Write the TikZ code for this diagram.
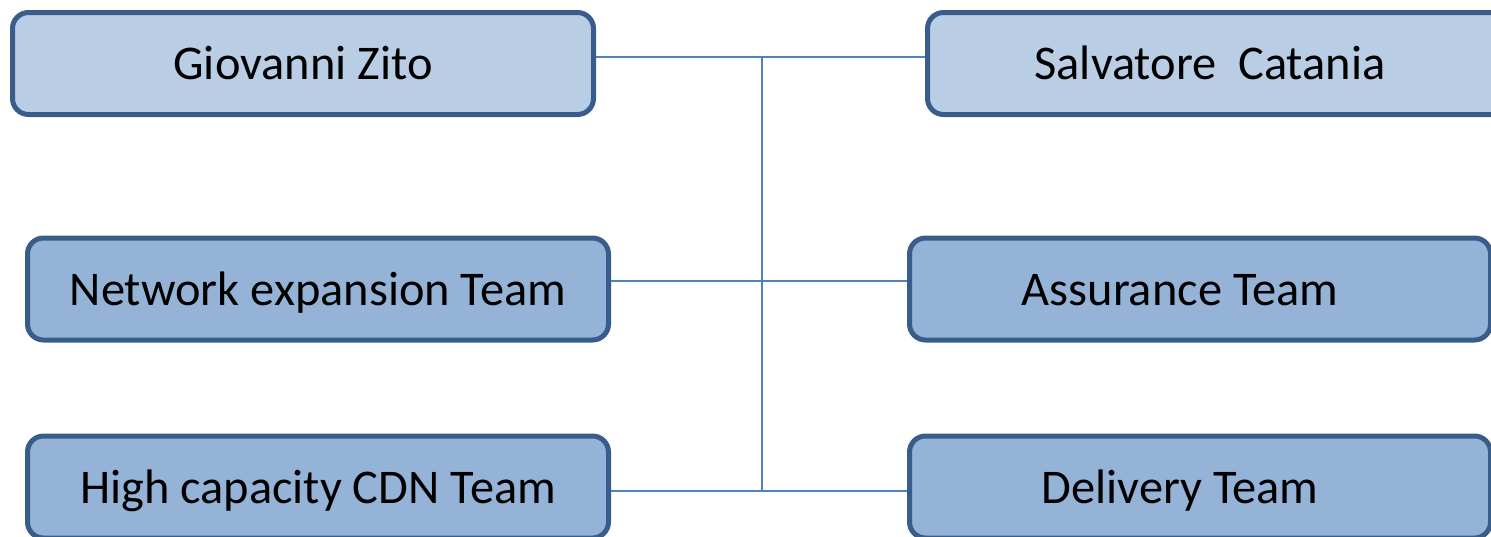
\documentclass[tikz,border=0pt]{standalone}
\usepackage{fontspec}
\setmainfont{Carlito}
\definecolor{boxline}{HTML}{385D8A}
\definecolor{lightfill}{HTML}{B9CDE5}
\definecolor{darkfill}{HTML}{95B3D7}
\definecolor{wire}{HTML}{4F81BD}
\tikzset{
  person/.style={draw=boxline, line width=2.5pt, rounded corners=8pt, fill=lightfill,
    minimum width=290.5pt, minimum height=51pt, inner sep=0pt,
    text height=16pt, text depth=0pt, font=\fontsize{24.2}{28}\selectfont},
  team/.style={person, fill=darkfill},
  link/.style={draw=wire, line width=1pt}
}

\begin{document}
\begin{tikzpicture}[x=0.5pt,y=-0.5pt]
  \clip (0,0) rectangle (1491,536);
  % heads
  \node[person] (gz) at (303,63.5) {Giovanni Zito};
  \node[person] (sc) at (1218,63.5) {Salvatore\ \ Catania\hspace*{8pt}};
  % teams
  \node[team] (ne) at (318,289) {Network expansion Team};
  \node[team] (hc) at (318,487) {High capacity CDN Team};
  \node[team] (as) at (1200,289) {Assurance Team\hspace*{20pt}};
  \node[team] (dt) at (1200,487) {Delivery Team\hspace*{20pt}};
  % connectors
  \coordinate (top) at (762,57);
  \coordinate (mid) at (762,281);
  \coordinate (bot) at (762,491);
  \draw[link] (top) -- (bot);
  \draw[link] (gz.east |- top) -- (sc.west |- top);
  \draw[link] (ne.east |- mid) -- (as.west |- mid);
  \draw[link] (hc.east |- bot) -- (dt.west |- bot);
\end{tikzpicture}
\end{document}
